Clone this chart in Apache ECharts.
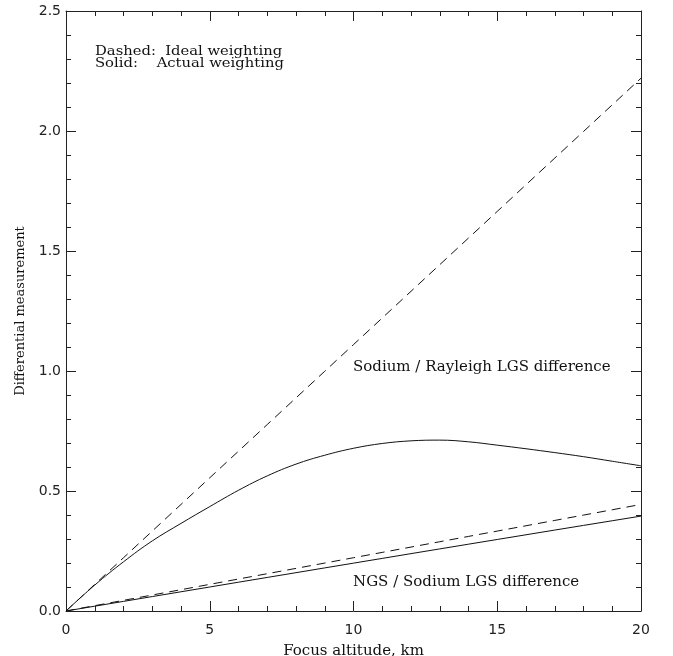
<!DOCTYPE html>
<html><head><meta charset="utf-8">
<script src="https://cdn.jsdelivr.net/npm/echarts@6/dist/echarts.min.js"></script>
<style>html,body{margin:0;padding:0;background:#fff}#c{width:673px;height:656px}</style>
</head><body><div id="c"></div>
<script>
const altitude = [0,1,2,3,4,5,6,7,8,9,10,11,12,13,14,15,16,17,18,19,20];
const sodiumRayleighIdeal = [0,0.111,0.222,0.333,0.444,0.555,0.666,0.777,0.888,0.999,1.11,1.221,1.332,1.443,1.554,1.665,1.776,1.887,1.998,2.109,2.22];
const sodiumRayleighActual = [0,0.108,0.205,0.292,0.365,0.435,0.503,0.563,0.612,0.649,0.678,0.698,0.709,0.712,0.705,0.691,0.676,0.660,0.643,0.624,0.605];
const ngsSodiumIdeal = [0,0.0222,0.0444,0.0666,0.0888,0.111,0.1332,0.1554,0.1776,0.1998,0.222,0.2442,0.2664,0.2886,0.3108,0.333,0.3552,0.3774,0.3996,0.4218,0.444];
const ngsSodiumActual = [0,0.0201,0.0401,0.0601,0.0801,0.1,0.12,0.1398,0.1597,0.1796,0.1994,0.2192,0.239,0.2587,0.2784,0.298,0.3176,0.3372,0.3567,0.3761,0.3955];
const xTicks = [0,5,10,15,20];
const yTicks = [0.0,0.5,1.0,1.5,2.0,2.5];

const pair = (ys) => altitude.map((x,i)=>[x,ys[i]]);
const chart = echarts.init(document.getElementById('c'));
const axisCommon = {
  axisLine:{show:true,onZero:false,lineStyle:{color:'#222',width:1}},
  axisTick:{show:true,inside:true,length:10,lineStyle:{color:'#222',width:1}},
  minorTick:{show:true,splitNumber:5,length:5,lineStyle:{color:'#222',width:1}},
  splitLine:{show:false}
};
const lblFont = {fontFamily:'DejaVu Sans',fontSize:14,color:'#222'};
chart.setOption({
  animation:false,
  backgroundColor:'#fff',
  grid:{left:66,right:32,top:11,bottom:45,containLabel:false,outerBoundsMode:'none'},
  xAxis:[
    Object.assign({type:'value',min:0,max:20,interval:5,position:'bottom',
      name:'Focus altitude, km',nameLocation:'middle',nameGap:33,
      nameTextStyle:{fontFamily:'DejaVu Serif',fontSize:15,color:'#111'},
      axisLabel:Object.assign({margin:12,formatter:v=>xTicks.includes(v)?String(v):''},lblFont)},axisCommon),
    Object.assign({type:'value',min:0,max:20,interval:5,position:'top',axisLabel:{show:false}},axisCommon)
  ],
  yAxis:[
    Object.assign({type:'value',min:0,max:2.5,interval:0.5,position:'left',
      name:'Differential measurement',nameLocation:'middle',nameGap:39,
      nameTextStyle:{fontFamily:'DejaVu Serif',fontSize:13,color:'#111'},
      axisLabel:Object.assign({margin:5,formatter:v=>yTicks.some(t=>Math.abs(t-v)<1e-9)?v.toFixed(1):''},lblFont)},axisCommon),
    Object.assign({type:'value',min:0,max:2.5,interval:0.5,position:'right',axisLabel:{show:false}},axisCommon)
  ],
  series:[
    {type:'line',name:'Sodium/Rayleigh ideal',data:pair(sodiumRayleighIdeal),showSymbol:false,
      lineStyle:{color:'#111',width:1,type:[9,6]}},
    {type:'line',name:'Sodium/Rayleigh actual',data:pair(sodiumRayleighActual),showSymbol:false,smooth:0.4,
      lineStyle:{color:'#111',width:1}},
    {type:'line',name:'NGS/Sodium ideal',data:pair(ngsSodiumIdeal),showSymbol:false,
      lineStyle:{color:'#111',width:1,type:[9,6]}},
    {type:'line',name:'NGS/Sodium actual',data:pair(ngsSodiumActual),showSymbol:false,
      lineStyle:{color:'#111',width:1}}
  ],
  graphic:[
    {type:'text',x:95,y:52,scaleX:1.23,style:{x:0,y:0,text:'Dashed:  Ideal weighting',font:'12px "DejaVu Serif"',fill:'#111',verticalAlign:'middle',align:'left'}},
    {type:'text',x:95,y:64,scaleX:1.23,style:{x:0,y:0,text:'Solid:    Actual weighting',font:'12px "DejaVu Serif"',fill:'#111',verticalAlign:'middle',align:'left'}},
    {type:'text',x:353,y:367,style:{x:0,y:0,text:'Sodium / Rayleigh LGS difference',font:'15px "DejaVu Serif"',fill:'#111',verticalAlign:'middle',align:'left'}},
    {type:'text',x:353,y:582,style:{x:0,y:0,text:'NGS / Sodium LGS difference',font:'15px "DejaVu Serif"',fill:'#111',verticalAlign:'middle',align:'left'}}
  ]
});
</script></body></html>
